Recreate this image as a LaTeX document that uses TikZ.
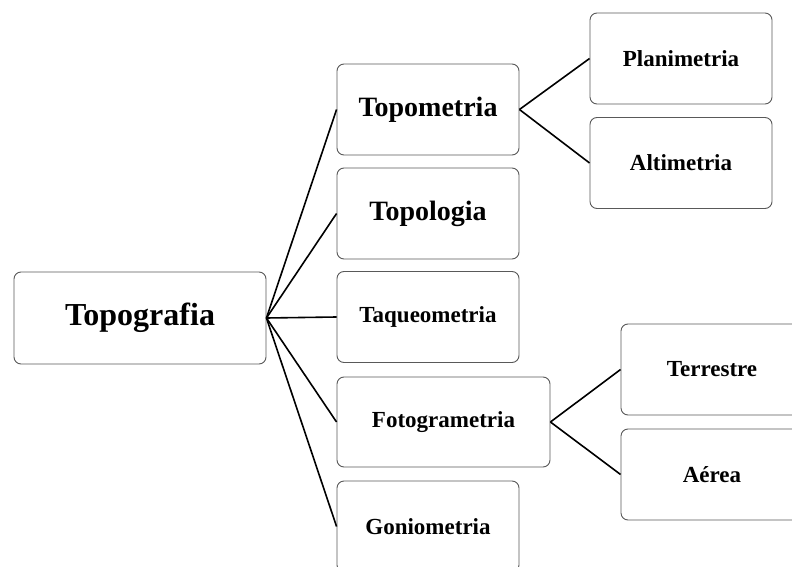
\documentclass[tikz,border=0pt]{standalone}
\usepackage{fontspec}
\setmainfont{Liberation Serif}

\tikzset{
	caixa/.style={draw=black!65, line width=0.9pt, rounded corners=7pt, fill=white,
		minimum width=182pt, minimum height=91pt, inner sep=0pt, font=\bfseries\fontsize{23}{26}\selectfont},
	grande/.style={caixa, font=\bfseries\fontsize{28}{32}\selectfont},
	liga/.style={draw=black, line width=1.6pt}
}

\begin{document}
\begin{tikzpicture}[x=1pt,y=-1pt]
			\clip (0,0) rectangle (792,567);
			\fill[white] (0,0) rectangle (792,567);
			% raiz
			\node[caixa, minimum width=252pt, minimum height=92pt, font=\bfseries\fontsize{32}{36}\selectfont] (topog) at (140,318) {Topografia};
			% ramos
			\node[grande] (topom) at (428,109.5) {Topometria};
			\node[grande] (topol) at (428,213.5) {Topologia};
			\node[caixa] (taque) at (428,317) {Taqueometria};
			\node[caixa, minimum width=213pt, minimum height=90pt] (fotog) at (443.5,422) {Fotogrametria};
			\node[caixa] (gonio) at (428,526.5) {Goniometria};
			% folhas
			\node[caixa] (plani) at (681,58.5) {Planimetria};
			\node[caixa] (alti) at (681,163) {Altimetria};
			\node[caixa] (terre) at (712,369.5) {Terrestre};
			\node[caixa] (aerea) at (712,474.5) {Aérea};
			% ligacoes
			\foreach \n in {topom,topol,taque,fotog,gonio}
				\draw[liga] (topog.east) -- (\n.west);
			\draw[liga] (topom.east) -- (plani.west);
			\draw[liga] (topom.east) -- (alti.west);
			\draw[liga] (fotog.east) -- (terre.west);
			\draw[liga] (fotog.east) -- (aerea.west);
		\end{tikzpicture}
\end{document}
